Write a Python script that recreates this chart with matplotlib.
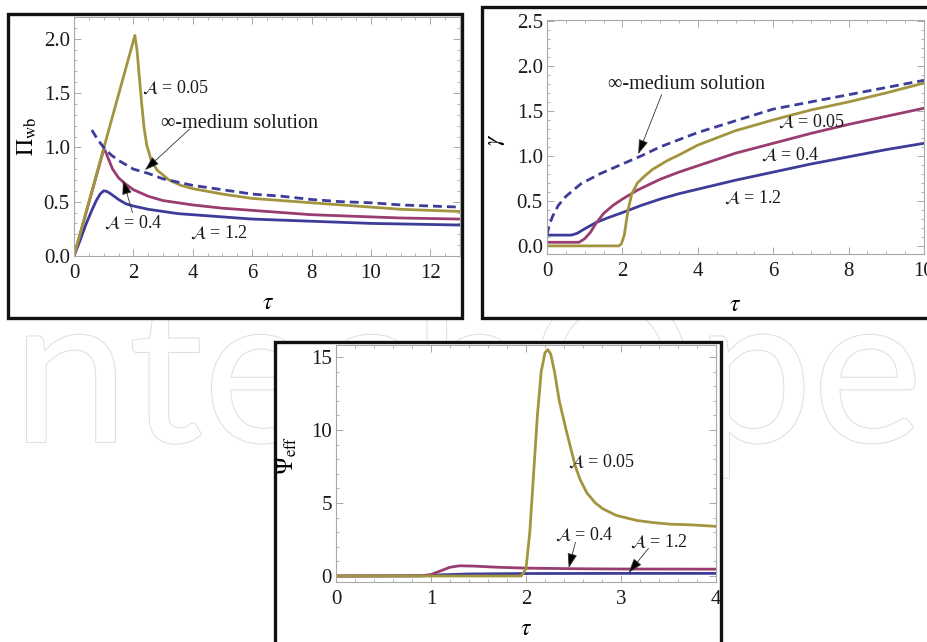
import numpy as np
import matplotlib
matplotlib.use("Agg")
import matplotlib.pyplot as plt
import matplotlib.patheffects as pe
from matplotlib.patches import Rectangle
from matplotlib.ticker import MultipleLocator, AutoMinorLocator, FormatStrFormatter

plt.rcParams['font.family'] = ['Liberation Serif', 'DejaVu Serif']
plt.rcParams['mathtext.fontset'] = 'stix'

# Mathematica default plot colours
BLUE = '#3d3d99'
PURPLE = '#993d71'
OLIVE = '#a3953f'
FRAME = '#a8a8a8'

# ---- panel 1: Pi_wb vs tau ----
p1_t_005 = [0, 2.05, 2.12, 2.2, 2.28, 2.36, 2.45, 2.6, 2.8, 3.2, 3.6, 4, 5, 6, 7, 8, 9, 10, 11, 12, 13]
p1_v_005 = [0, 2.03, 1.9, 1.65, 1.4, 1.18, 1.02, 0.88, 0.79, 0.7, 0.65, 0.62, 0.57, 0.53, 0.51, 0.49, 0.47, 0.45, 0.43, 0.42, 0.41]
p1_t_04 = [0, 1.0, 1.05, 1.15, 1.3, 1.5, 1.7, 2, 2.5, 3, 4, 5, 6, 7, 8, 9, 10, 11, 12, 13]
p1_v_04 = [0, 0.98, 0.97, 0.9, 0.8, 0.72, 0.67, 0.61, 0.55, 0.51, 0.47, 0.44, 0.42, 0.40, 0.38, 0.37, 0.36, 0.35, 0.345, 0.34]
p1_t_12 = [0, 0.2, 0.4, 0.6, 0.75, 0.88, 1.0, 1.1, 1.25, 1.5, 1.75, 2, 2.5, 3, 3.5, 4, 5, 6, 7, 8, 9, 10, 11, 12, 13]
p1_v_12 = [0, 0.14, 0.29, 0.42, 0.51, 0.57, 0.6, 0.595, 0.57, 0.52, 0.48, 0.46, 0.43, 0.41, 0.39, 0.38, 0.36, 0.34, 0.33, 0.32, 0.31, 0.30, 0.295, 0.29, 0.285]
p1_t_inf = [0.6, 0.8, 1.0, 1.25, 1.5, 2.0, 2.5, 3, 3.5, 4, 5, 6, 7, 8, 9, 10, 11, 12, 13]
p1_v_inf = [1.16, 1.07, 1.0, 0.93, 0.88, 0.8, 0.76, 0.71, 0.68, 0.65, 0.61, 0.57, 0.55, 0.52, 0.5, 0.49, 0.47, 0.46, 0.45]

# ---- panel 2: gamma vs tau ----
p2_t_005 = [0, 1.9, 1.97, 2.05, 2.15, 2.25, 2.4, 2.6, 2.8, 3.2, 3.5, 4, 5, 6, 7, 8, 9, 10]
p2_v_005 = [0, 0, 0.02, 0.12, 0.4, 0.58, 0.7, 0.78, 0.85, 0.95, 1.01, 1.12, 1.28, 1.4, 1.51, 1.6, 1.7, 1.81]
p2_t_04 = [0, 0.85, 1.0, 1.15, 1.3, 1.5, 1.75, 2, 2.4, 3, 3.5, 4, 5, 6, 7, 8, 9, 10]
p2_v_04 = [0.04, 0.04, 0.08, 0.15, 0.25, 0.36, 0.45, 0.52, 0.62, 0.74, 0.82, 0.89, 1.03, 1.14, 1.25, 1.35, 1.44, 1.53]
p2_t_12 = [0, 0.65, 0.8, 1.0, 1.3, 1.6, 2, 2.5, 3, 3.5, 4, 5, 6, 7, 8, 9, 10]
p2_v_12 = [0.12, 0.12, 0.14, 0.19, 0.26, 0.31, 0.37, 0.45, 0.52, 0.58, 0.63, 0.73, 0.82, 0.91, 0.99, 1.07, 1.14]
p2_t_inf = [0, 0.05, 0.15, 0.3, 0.5, 0.9, 1.4, 2, 2.5, 3, 4, 5, 6, 7, 8, 9, 10]
p2_v_inf = [0.12, 0.22, 0.33, 0.45, 0.55, 0.69, 0.8, 0.91, 1.0, 1.1, 1.26, 1.39, 1.52, 1.6, 1.68, 1.76, 1.84]

# ---- panel 3: Psi_eff vs tau ----
p3_t_005 = [0, 1.95, 2.0, 2.04, 2.08, 2.12, 2.16, 2.2, 2.23, 2.26, 2.3, 2.35, 2.43, 2.52, 2.57, 2.64, 2.73, 2.81, 2.95, 3.17, 3.35, 3.52, 3.75, 4.0]
p3_v_005 = [0, 0, 0.5, 3, 7, 11, 14, 15.3, 15.5, 15.2, 14, 12, 9.8, 7.5, 6.6, 5.7, 5.0, 4.6, 4.15, 3.8, 3.65, 3.55, 3.5, 3.4]
p3_t_04 = [0, 0.9, 1.0, 1.1, 1.2, 1.3, 1.45, 1.7, 2, 2.5, 3, 4]
p3_v_04 = [0, 0.02, 0.1, 0.35, 0.6, 0.7, 0.68, 0.6, 0.54, 0.5, 0.48, 0.47]
p3_t_12 = [0, 0.9, 1.1, 1.4, 2, 3, 4]
p3_v_12 = [0, 0.01, 0.08, 0.14, 0.17, 0.18, 0.18]

W, H = 928, 642
fig = plt.figure(figsize=(W / 100, H / 100), dpi=100)


def px_rect(x0, y0, x1, y1):
    # pixel box (top-left origin) -> figure fraction [l, b, w, h]
    return [x0 / W, 1 - y1 / H, (x1 - x0) / W, (y1 - y0) / H]


# faint watermark behind everything
fig.text(0.535, 1 - 442 / H, 'IntechOpen', fontsize=150, family='Lato', color='white',
         ha='center', va='baseline', zorder=0,
         path_effects=[pe.withStroke(linewidth=1.5, foreground='#e0e0e0')])

# thick black panel borders
for box in [(8, 14, 462, 318), (482, 7, 932, 318), (275, 342, 721, 646)]:
    l, b, w, h = px_rect(*box)
    fig.patches.append(Rectangle((l, b), w, h, transform=fig.transFigure,
                                 facecolor='white', edgecolor='#111', lw=2.4, zorder=1))

ax1 = fig.add_axes(px_rect(74, 17, 460, 256))
ax2 = fig.add_axes(px_rect(547, 20, 924, 254))
ax3 = fig.add_axes(px_rect(336, 345, 716, 582))


def style(ax, xmaj, xdiv, ymaj, ydiv, yfmt):
    for s in ax.spines.values():
        s.set_color(FRAME)
        s.set_linewidth(0.8)
    ax.xaxis.set_major_locator(MultipleLocator(xmaj))
    ax.xaxis.set_minor_locator(AutoMinorLocator(xdiv))
    ax.yaxis.set_major_locator(MultipleLocator(ymaj))
    ax.yaxis.set_minor_locator(AutoMinorLocator(ydiv))
    ax.yaxis.set_major_formatter(FormatStrFormatter(yfmt))
    ax.tick_params(which='both', direction='in', top=True, right=True, color=FRAME,
                   labelsize=15, labelcolor='#1a1a1a')
    ax.tick_params(which='major', length=5, width=0.7)
    ax.tick_params(which='minor', length=2.5, width=0.6)
    ax.tick_params(axis='x', pad=6)
    ax.tick_params(axis='y', pad=3)


def labels(ax, xl, yl, xpos, ypos):
    ax.set_xlabel(xl, fontsize=17, va='center', ha='center')
    ax.set_ylabel(yl, fontsize=17, va='center', ha='center')
    ax.xaxis.set_label_coords(*xpos)
    ax.yaxis.set_label_coords(*ypos)


LW = 2.0
DASH = (3.2, 1.8)
arrow = dict(arrowstyle='-|>,head_length=0.9,head_width=0.3', fc='black', ec='#333',
             lw=0.6, shrinkA=0, shrinkB=0)
lab_kw = dict(fontsize=13, ha='center', va='center', color='#1a1a1a')

# panel 1
ax1.plot(p1_t_12, p1_v_12, color=BLUE, lw=LW)
ax1.plot(p1_t_04, p1_v_04, color=PURPLE, lw=LW)
ax1.plot(p1_t_005, p1_v_005, color=OLIVE, lw=LW)
ax1.plot(p1_t_inf, p1_v_inf, color=BLUE, lw=LW, dashes=DASH)
ax1.set_xlim(0, 13)
ax1.set_ylim(0, 2.2)
style(ax1, 2, 4, 0.5, 5, '%.1f')
labels(ax1, r'$\tau$', r'$\Pi_{\rm wb}$', (0.503, -0.197), (-0.122, 0.5))
ax1.text(3.43, 1.55, r'$\mathcal{A}$ = 0.05', **lab_kw)
ax1.text(5.56, 1.22, '∞-medium solution', fontsize=14.5, ha='center', va='center', color='#1a1a1a')
ax1.annotate('', xy=(2.39, 0.79), xytext=(3.9, 1.17), arrowprops=arrow)
ax1.text(2.0, 0.30, r'$\mathcal{A}$ = 0.4', **lab_kw)
ax1.annotate('', xy=(1.65, 0.70), xytext=(1.97, 0.40), arrowprops=arrow)
ax1.text(4.9, 0.21, r'$\mathcal{A}$ = 1.2', **lab_kw)

# panel 2
ax2.plot(p2_t_12, p2_v_12, color=BLUE, lw=LW)
ax2.plot(p2_t_04, p2_v_04, color=PURPLE, lw=LW)
ax2.plot(p2_t_005, p2_v_005, color=OLIVE, lw=LW)
ax2.plot(p2_t_inf, p2_v_inf, color=BLUE, lw=LW, dashes=DASH)
ax2.set_xlim(0, 10)
ax2.set_ylim(-0.09, 2.51)
style(ax2, 2, 4, 0.5, 5, '%.1f')
labels(ax2, r'$\tau$', r'$\gamma$', (0.499, -0.218), (-0.133, 0.487))
ax2.text(3.7, 1.79, '∞-medium solution', fontsize=14.5, ha='center', va='center', color='#1a1a1a')
ax2.annotate('', xy=(2.42, 1.02), xytext=(3.04, 1.68), arrowprops=arrow)
ax2.text(7.03, 1.38, r'$\mathcal{A}$ = 0.05', **lab_kw)
ax2.text(6.45, 1.01, r'$\mathcal{A}$ = 0.4', **lab_kw)
ax2.text(5.47, 0.53, r'$\mathcal{A}$ = 1.2', **lab_kw)

# panel 3
ax3.plot(p3_t_12, p3_v_12, color=BLUE, lw=LW)
ax3.plot(p3_t_04, p3_v_04, color=PURPLE, lw=LW)
ax3.plot(p3_t_005, p3_v_005, color=OLIVE, lw=LW)
ax3.set_xlim(0, 4)
ax3.set_ylim(-0.41, 15.82)
style(ax3, 1, 5, 5, 5, '%d')
labels(ax3, r'$\tau$', r'$\Psi_{\rm eff}$', (0.5, -0.2), (-0.129, 0.536))
ax3.text(2.8, 7.8, r'$\mathcal{A}$ = 0.05', **lab_kw)
ax3.text(2.61, 2.8, r'$\mathcal{A}$ = 0.4', **lab_kw)
ax3.annotate('', xy=(2.45, 0.55), xytext=(2.52, 2.3), arrowprops=arrow)
ax3.text(3.4, 2.35, r'$\mathcal{A}$ = 1.2', **lab_kw)
ax3.annotate('', xy=(3.08, 0.22), xytext=(3.29, 1.9), arrowprops=arrow)

for ax in (ax1, ax2, ax3):
    ax.set_zorder(2)

fig.savefig('out.png', dpi=100)
